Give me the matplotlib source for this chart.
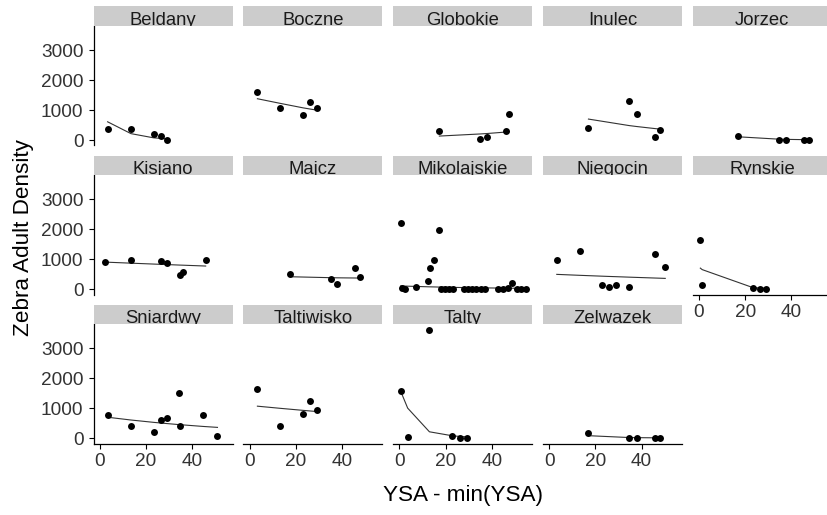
"""
Zebra mussel adult density vs. years since arrival, one panel per lake
"""

import matplotlib
matplotlib.use('Agg')
import matplotlib.pyplot as plt

plt.rcParams['font.family'] = ['Liberation Sans', 'DejaVu Sans']

# 데이터
lakes = ['Beldany', 'Boczne', 'Globokie', 'Inulec', 'Jorzec',
         'Kisjano', 'Majcz', 'Mikolajskie', 'Niegocin', 'Rynskie',
         'Sniardwy', 'Taltiwisko', 'Talty', 'Zelwazek']

ysa = [
    [3.4, 13.5, 23.3, 26.5, 29.2],
    [3.4, 13.3, 23.2, 26.3, 29.1],
    [17.3, 34.9, 38.1, 45.9, 47.5],
    [17.0, 34.6, 37.8, 45.6, 47.8],
    [16.9, 34.6, 37.7, 45.5, 47.6],
    [2.4, 13.5, 26.5, 29.1, 34.6, 35.8, 45.8],
    [17.5, 35.2, 37.8, 45.6, 47.8],
    [0.6, 1.3, 2.4, 7.2, 12.6, 13.2, 14.9, 17.2, 17.9, 19.7, 21.6, 23.3, 27.9,
     29.7, 31.6, 33.3, 35.2, 36.9, 42.6, 44.8, 46.9, 48.6, 50.8, 52.6, 54.7],
    [3.3, 13.3, 22.7, 25.8, 28.9, 34.6, 45.6, 50.2],
    [0.6, 1.4, 23.3, 26.2, 29.0],
    [3.6, 13.5, 23.3, 26.5, 29.1, 34.2, 34.6, 44.6, 50.9],
    [3.4, 13.3, 23.3, 26.3, 29.1],
    [0.6, 3.6, 13.0, 22.9, 26.1, 29.2],
    [17.0, 34.6, 37.8, 45.6, 47.8],
]

density = [
    [367, 367, 210, 123, 10],
    [1593, 1058, 825, 1269, 1058],
    [290, 43, 90, 290, 868],
    [411, 1303, 868, 90, 334],
    [134, 5, 5, 5, 5],
    [892, 969, 925, 858, 478, 568, 969],
    [490, 323, 156, 690, 400],
    [2194, 30, 15, 60, 277, 691, 969, 1982, 15, 10, 10, 15, 10,
     10, 15, 10, 10, 15, 10, 10, 20, 210, 10, 15, 10],
    [969, 1259, 134, 67, 124, 77, 1179, 725],
    [1626, 124, 33, 10, 10],
    [775, 404, 202, 607, 684, 1517, 404, 775, 67],
    [1628, 404, 809, 1223, 944],
    [1580, 33, 3600, 67, 5, 5],
    [155, 5, 5, 5, 5],
]

# 모델 적합값 (선)
fitted = [
    [610, 215, 75, 55, 40],
    [1380, 1225, 1075, 1035, 1000],
    [134, 204, 220, 267, 277],
    [701, 484, 453, 385, 367],
    [110, 30, 24, 14, 12],
    [900, 865, 825, 818, 801, 798, 769],
    [412, 380, 376, 370, 367],
    [105, 103, 100, 88, 76, 75, 72, 67, 66, 63, 60, 57, 50,
     48, 46, 44, 42, 40, 34, 32, 30, 29, 27, 26, 24],
    [491, 459, 431, 422, 414, 398, 369, 357],
    [700, 650, 50, 36, 26],
    [694, 603, 525, 502, 484, 450, 448, 389, 357],
    [1065, 993, 924, 904, 886],
    [1560, 1000, 210, 77, 55, 40],
    [80, 18, 14, 9, 8],
]

W, H = 827, 515
PT = 100 / 72  # px per pt


def rect(left, top, w, h):
    return [left / W, 1 - (top + h) / H, w / W, h / H]


fig = plt.figure(figsize=(W / 100, H / 100), dpi=100)

ncol = 5
for i, lake in enumerate(lakes):
    r, c = divmod(i, ncol)
    left = 93.5 + 149.8 * c
    top = 26 + 149 * r

    ax = fig.add_axes(rect(left, top, 139, 119.5))
    ax.plot(ysa[i], fitted[i], color='#333333', lw=0.8, zorder=2)
    ax.scatter(ysa[i], density[i], s=25, color='black', linewidths=0, zorder=3)
    ax.set_xlim(-2.7, 57.4)
    ax.set_ylim(-181, 3808)

    for s in ax.spines.values():
        s.set_visible(False)

    show_left = c == 0
    show_bottom = i + ncol >= len(lakes)

    if show_left:
        ax.spines['left'].set_visible(True)
        ax.spines['left'].set_linewidth(0.9)
        ax.set_yticks([0, 1000, 2000, 3000])
    else:
        ax.set_yticks([])
    if show_bottom:
        ax.spines['bottom'].set_visible(True)
        ax.spines['bottom'].set_linewidth(0.9)
        ax.set_xticks([0, 20, 40])
    else:
        ax.set_xticks([])

    ax.tick_params(length=5 / PT, width=0.8, labelsize=13.7,
                   labelcolor='#333333', color='black')
    ax.tick_params(axis='y', pad=5 / PT)
    ax.tick_params(axis='x', pad=3)

    # 스트립
    sax = fig.add_axes(rect(left, top - 19.5, 139, 19.5))
    sax.set_facecolor('#CCCCCC')
    sax.set_xticks([])
    sax.set_yticks([])
    for s in sax.spines.values():
        s.set_visible(False)
    sax.text(0.5, 0.05, lake, ha='center', va='baseline', fontsize=13.3,
             color='#1A1A1A', transform=sax.transAxes, clip_on=True)

fig.text(463 / W, 1 - 495 / H, 'YSA - min(YSA)', ha='center', va='center',
         fontsize=16.2, color='black')
fig.text(24 / W, 1 - 238 / H, 'Zebra Adult Density', ha='center', va='center',
         rotation=90, fontsize=16.2, color='black')

fig.savefig('out.png', dpi=100)
